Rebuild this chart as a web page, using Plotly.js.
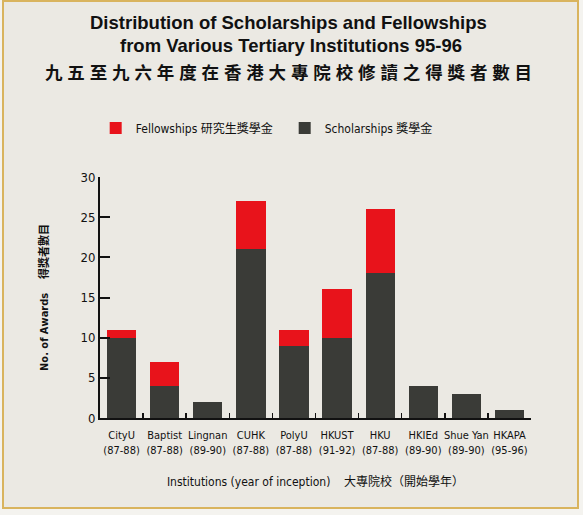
<!DOCTYPE html>
<html>
<head>
<meta charset="utf-8">
<script src="https://cdn.plot.ly/plotly-3.0.1.min.js"></script>
<style>html,body{margin:0;padding:0;background:#f4f3ef;}#chart{width:583px;height:515px;}</style>
</head>
<body>
<div id="chart"></div>
<script>
var institutions = ["CityU<br>(87-88)", "Baptist<br>(87-88)", "Lingnan<br>(89-90)", "CUHK<br>(87-88)", "PolyU<br>(87-88)", "HKUST<br>(91-92)", "HKU<br>(87-88)", "HKIEd<br>(89-90)", "Shue Yan<br>(89-90)", "HKAPA<br>(95-96)"];
var scholarships = [10, 4, 2, 21, 9, 10, 18, 4, 3, 1];
var fellowships = [1, 3, 0, 6, 2, 6, 8, 0, 0, 0];
var yTicks = [0, 5, 10, 15, 20, 25, 30];
var titleLines = ["Distribution of Scholarships and Fellowships", "from Various Tertiary Institutions 95-96", "九五至九六年度在香港大專院校修讀之得獎者數目"];

var FONT = "Liberation Sans, Arial, Noto Sans CJK TC, sans-serif";
var NARROW = "DejaVu Sans Condensed, Liberation Sans Narrow, Noto Sans CJK TC, sans-serif";

function spaced(s) { return s.split("").join(" "); }
function py(pix) { return (418 - pix) / 241; }

var traces = [
  {type: "bar", name: "Scholarships 獎學金", x: institutions, y: scholarships,
   marker: {color: "#3a3b37", line: {width: 0}}},
  {type: "bar", name: "Fellowships 研究生獎學金", x: institutions, y: fellowships,
   marker: {color: "#e8131b", line: {width: 0}}}
];

var layout = {
  width: 583, height: 515,
  margin: {l: 100, r: 52, t: 177, b: 97},
  paper_bgcolor: "#f4f3ef",
  plot_bgcolor: "rgba(0,0,0,0)",
  barmode: "stack",
  bargap: 0.32,
  font: {family: FONT, color: "#111"},
  showlegend: true,
  legend: {
    orientation: "h", traceorder: "reversed",
    x: -0.01, xanchor: "left", y: py(128), yanchor: "middle",
    entrywidth: 144, entrywidthmode: "pixels",
    font: {family: NARROW, size: 12, color: "#111"},
    bgcolor: "rgba(0,0,0,0)"
  },
  xaxis: {
    type: "category",
    showline: true, linecolor: "#111", linewidth: 2,
    ticks: "inside", tickson: "boundaries", ticklen: 5, tickwidth: 1.5, tickcolor: "#111",
    showgrid: false, zeroline: false, tickangle: 0, ticklabelstandoff: 6,
    tickfont: {family: NARROW, size: 11, color: "#111"},
    title: {text: "Institutions (year of inception)&nbsp;&nbsp;&nbsp;&nbsp;大專院校（開始學年）",
            font: {family: NARROW, size: 12, color: "#111"}, standoff: 22},
    fixedrange: true
  },
  yaxis: {
    range: [0, 30], tickvals: yTicks, ticktext: yTicks.map(String),
    showline: true, linecolor: "#111", linewidth: 2,
    ticks: "inside", ticklen: 10, tickwidth: 2, tickcolor: "#111",
    showgrid: false, zeroline: false,
    tickfont: {family: NARROW, size: 13, color: "#111"},
    title: {text: "<b>No. of Awards&nbsp;&nbsp;&nbsp;&nbsp;得獎者數目</b>",
            font: {family: NARROW, size: 11, color: "#111"}, standoff: 30},
    fixedrange: true
  },
  annotations: [
    {text: "<b>" + titleLines[0] + "</b>", xref: "paper", yref: "paper", x: (288 - 100) / 431, y: py(22),
     xanchor: "center", yanchor: "middle", showarrow: false, font: {family: FONT, size: 18.5, color: "#111"}},
    {text: "<b>" + titleLines[1] + "</b>", xref: "paper", yref: "paper", x: (291 - 100) / 431, y: py(46),
     xanchor: "center", yanchor: "middle", showarrow: false, font: {family: FONT, size: 18.5, color: "#111"}},
    {text: "<b>" + spaced(titleLines[2]) + "</b>", xref: "paper", yref: "paper", x: (288 - 100) / 431, y: py(73),
     xanchor: "center", yanchor: "middle", showarrow: false, font: {family: FONT, size: 17.5, color: "#111"}}
  ],
  shapes: [
    {type: "rect", xref: "paper", yref: "paper", layer: "below",
     x0: (3 - 100) / 431, x1: (578 - 100) / 431,
     y0: (418 - 508) / 241, y1: (418 - 1) / 241,
     fillcolor: "#ebe9e3", line: {color: "#d9b45e", width: 2}}
  ]
};

Plotly.newPlot("chart", traces, layout, {displayModeBar: false, staticPlot: true});
</script>
</body>
</html>
